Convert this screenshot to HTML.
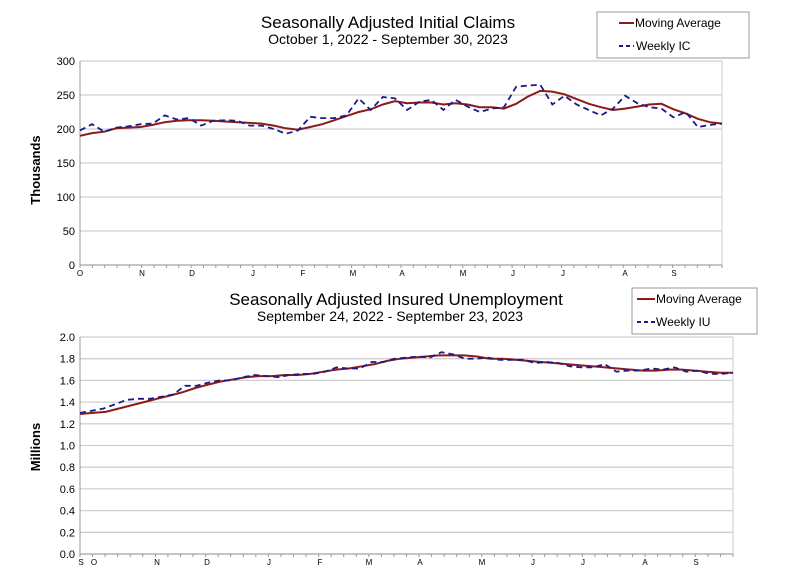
<!DOCTYPE html>
<html><head><meta charset="utf-8"><style>
body{margin:0;background:#fff;width:800px;height:583px;overflow:hidden}
svg{display:block;font-family:"Liberation Sans",sans-serif}
</style></head><body>
<svg id="s" width="800" height="583" viewBox="0 0 800 583" xmlns="http://www.w3.org/2000/svg">
<rect width="800" height="583" fill="#fff"/>
<g id="g"></g>
<text x="388" y="28" font-size="17" text-anchor="middle" fill="#000">Seasonally Adjusted Initial Claims</text>
<text x="388" y="44" font-size="14" text-anchor="middle" fill="#000">October 1, 2022 - September 30, 2023</text>
<rect x="597" y="12" width="152" height="46" fill="#fff" stroke="#999" stroke-width="1"/>
<line x1="619" y1="23" x2="634" y2="23" stroke="#8b1a1a" stroke-width="2"/>
<text x="635" y="27" font-size="12">Moving Average</text>
<line x1="619" y1="46" x2="634" y2="46" stroke="#1a1a8b" stroke-width="2" stroke-dasharray="4,3"/>
<text x="636" y="50" font-size="12">Weekly IC</text>
<text transform="translate(40,170) rotate(-90)" font-size="13" font-weight="bold" text-anchor="middle">Thousands</text>

<text x="396" y="305" font-size="17" text-anchor="middle">Seasonally Adjusted Insured Unemployment</text>
<text x="390" y="321" font-size="14" text-anchor="middle">September 24, 2022 - September 23, 2023</text>
<rect x="632" y="288" width="125" height="46" fill="#fff" stroke="#999" stroke-width="1"/>
<line x1="637" y1="299" x2="655" y2="299" stroke="#8b1a1a" stroke-width="2"/>
<text x="656" y="303" font-size="12">Moving Average</text>
<line x1="637" y1="322" x2="655" y2="322" stroke="#1a1a8b" stroke-width="2" stroke-dasharray="4,3"/>
<text x="656" y="326" font-size="12">Weekly IU</text>
<text transform="translate(40,447) rotate(-90)" font-size="13" font-weight="bold" text-anchor="middle">Millions</text>
</svg>
<script>
var NS="http://www.w3.org/2000/svg",g=document.getElementById("g");
function el(t,a,txt){var e=document.createElementNS(NS,t);for(var k in a)e.setAttribute(k,a[k]);if(txt!=null)e.textContent=txt;g.appendChild(e);return e;}
function chart(o){
  var L=o.L,R=o.R,T=o.T,B=o.B;
  for(var i=0;i<o.ticks.length;i++){
    var v=o.ticks[i],y=B-(v-o.min)/(o.max-o.min)*(B-T);
    el("line",{x1:L,y1:y,x2:R,y2:y,stroke:"#cfcfcf","stroke-width":1.3});
    el("text",{x:L-5,y:y+4,"font-size":11,"text-anchor":"end"},o.fmt(v));
  }
  el("line",{x1:L,y1:T,x2:L,y2:B,stroke:"#999"});
  el("line",{x1:R,y1:T,x2:R,y2:B,stroke:"#ccc"});
  el("line",{x1:L,y1:B,x2:R,y2:B,stroke:"#999"});
  for(var x=L;x<=R+0.1;x+=(R-L)/52) el("line",{x1:x,y1:B,x2:x,y2:B+3,stroke:"#999"});
  o.labels.forEach(function(l){el("text",{x:l[1],y:B+11,"font-size":8,"text-anchor":"middle"},l[0]);});
  function pts(d){return d.map(function(v,i){return (L+i*(R-L)/(d.length-1)).toFixed(1)+","+(B-(v-o.min)/(o.max-o.min)*(B-T)).toFixed(1);}).join(" ");}
  el("polyline",{points:pts(o.ma),fill:"none",stroke:"#8b1a1a","stroke-width":2});
  el("polyline",{points:pts(o.wk),fill:"none",stroke:"#1a1a8b","stroke-width":1.8,"stroke-dasharray":"6,4"});
}
chart({L:80,R:722,T:61,B:265,min:0,max:300,ticks:[0,50,100,150,200,250,300],fmt:function(v){return v;},
labels:[["O",80],["N",142],["D",192],["J",253],["F",303],["M",353],["A",402],["M",463],["J",513],["J",563],["A",625],["S",674]],
wk:[198,207,196,202,204,207,208,220,214,216,205,212,213,212,205,205,200,193,198,218,216,216,220,245,228,247,245,228,240,243,228,243,233,225,230,232,262,264,265,236,249,236,228,220,230,249,238,232,230,217,225,203,206,208],
ma:[190,194,196,201,202,203,206,210,212,213,213,212,211,210,209,208,205,201,199,203,207,213,219,225,229,236,241,238,239,239,236,238,236,232,232,230,237,248,256,255,251,244,237,232,228,230,233,236,237,229,223,215,210,208]});
chart({L:80,R:733,T:337,B:554,min:0,max:2,ticks:[0,0.2,0.4,0.6,0.8,1,1.2,1.4,1.6,1.8,2],fmt:function(v){return v.toFixed(1);},
labels:[["S",81],["O",94],["N",157],["D",207],["J",269],["F",320],["M",369],["A",420],["M",482],["J",533],["J",583],["A",645],["S",696]],
wk:[1.30,1.32,1.34,1.38,1.42,1.43,1.43,1.45,1.47,1.55,1.55,1.58,1.60,1.60,1.63,1.65,1.64,1.63,1.65,1.66,1.66,1.68,1.72,1.71,1.71,1.77,1.77,1.80,1.81,1.82,1.81,1.86,1.84,1.80,1.80,1.81,1.79,1.79,1.79,1.76,1.77,1.76,1.73,1.72,1.72,1.75,1.68,1.69,1.69,1.71,1.70,1.72,1.68,1.69,1.66,1.66,1.67],
ma:[1.29,1.30,1.31,1.34,1.37,1.40,1.43,1.46,1.49,1.53,1.56,1.59,1.61,1.63,1.64,1.64,1.65,1.65,1.66,1.68,1.70,1.71,1.73,1.75,1.78,1.80,1.81,1.82,1.83,1.83,1.83,1.82,1.80,1.80,1.79,1.78,1.77,1.76,1.75,1.74,1.73,1.72,1.71,1.70,1.69,1.69,1.70,1.70,1.69,1.68,1.67,1.67]});
</script>
</body></html>
